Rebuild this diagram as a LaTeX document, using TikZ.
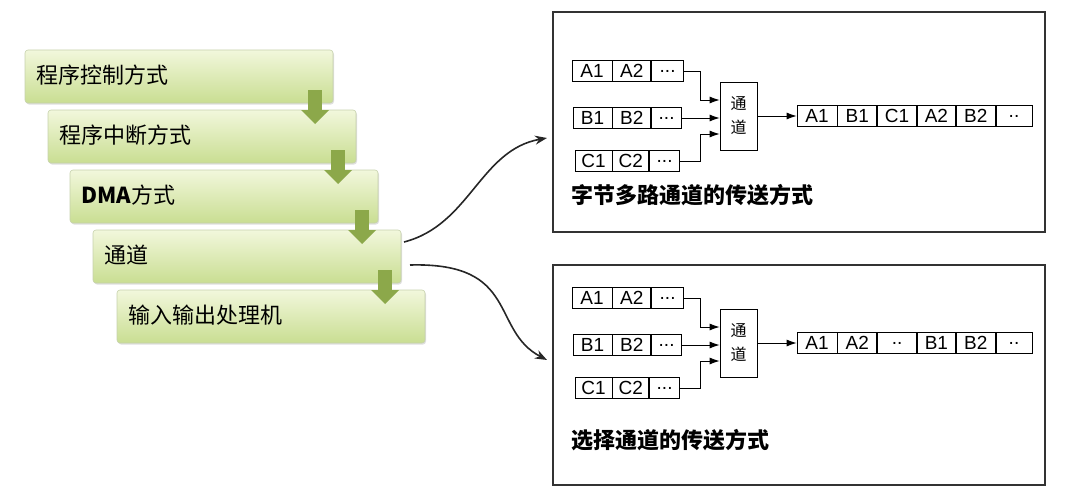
\documentclass[tikz,border=0pt]{standalone}
\usepackage{fontspec}
\setmainfont{Liberation Sans}
\newfontfamily\cjk{Noto Sans CJK SC}
\usetikzlibrary{arrows.meta,shadows}
\definecolor{gA}{HTML}{F2F7DC}
\definecolor{gB}{HTML}{C9DE92}
\definecolor{garr}{HTML}{8CA84A}
\begin{document}
\begin{tikzpicture}[x=1pt,y=-1pt,
 stepbox/.style={draw=gB!80!black!60,rounded corners=3pt,top color=gA,bottom color=gB,line width=0.6pt,drop shadow={opacity=0.25,shadow xshift=1pt,shadow yshift=-1.5pt}},
 lbl/.style={anchor=west,font=\cjk\fontsize{22}{24}\selectfont},
 cell/.style={draw,fill=white,line width=0.8pt,minimum height=21pt,inner sep=0pt,font=\fontsize{19}{19}\selectfont},
 panel/.style={draw=black!80,line width=1.6pt},
 conn/.style={-{Latex[length=10pt,width=7pt]},line width=0.9pt},
 big/.style={-{Stealth[length=12pt,width=9pt]},line width=1.6pt,black!85}]
\useasboundingbox (0,0) rectangle (1065,495);
% left steps
\foreach \i/\x/\y/\t in {1/25/50/程序控制方式,2/48/110/程序中断方式,3/70/170/{\textbf{DMA}方式},4/93/230/通道,5/117/290/输入输出处理机}{
 \path[stepbox] (\x,\y) rectangle ++(308,53);
 \node[lbl] (s\i) at (\x+8,\y+25) {\t};
}
\foreach \x/\y in {315/90,338/150,362/210,385/270}{
 \fill[garr] (\x-7,\y) rectangle (\x+7,\y+20);
 \fill[garr] (\x-14,\y+20) -- (\x,\y+34) -- (\x+14,\y+20) -- cycle;
}
% panels
\foreach \p/\po/\oy/\cy/\cap in {1/0/0/195/字节多路通道的传送方式,2/253/227/440/选择通道的传送方式}{
 \draw[panel] (553,12+\po) rectangle (1045,232+\po);
 \node[cell,minimum width=40pt] (a1\p) at (592,71+\oy) {A1};
 \node[cell,minimum width=38pt,anchor=west] (a2\p) at (a1\p.east) {A2};
 \node[cell,minimum width=32pt,anchor=west] (a3\p) at (a2\p.east) {...};
 \node[cell,minimum width=39pt] (b1\p) at (592.5,118+\oy) {B1};
 \node[cell,minimum width=38pt,anchor=west] (b2\p) at (b1\p.east) {B2};
 \node[cell,minimum width=30pt,anchor=west] (b3\p) at (b2\p.east) {...};
 \node[cell,minimum width=37pt] (c1\p) at (593.5,161+\oy) {C1};
 \node[cell,minimum width=36pt,anchor=west] (c2\p) at (c1\p.east) {C2};
 \node[cell,minimum width=30pt,anchor=west] (c3\p) at (c2\p.east) {...};
 \node[draw,line width=0.8pt,minimum width=37pt,minimum height=68pt,align=center,font=\cjk\fontsize{16}{24}\selectfont] (ch\p) at (738.5,116+\oy) {通\\道};
 \draw[conn] (a3\p.east) -| (700,100+\oy) -- (ch\p.west|-0,100+\oy);
 \draw[conn] (b3\p.east) -- (ch\p.west|-b3\p);
 \draw[conn] (c3\p.east) -| (700,134+\oy) -- (ch\p.west|-0,134+\oy);
 \node[lbl,font=\cjk\bfseries\fontsize{22}{24}\selectfont] (cap\p) at (568,\cy) {\cap};
}
\node[cell,minimum width=40pt] (o11) at (817,116) {A1};
\foreach \i/\j/\w/\t in {2/1/39/B1,3/2/39/C1,4/3/38/A2,5/4/39/B2,6/5/36/..}
 \node[cell,minimum width=\w pt,anchor=west] (o\i1) at (o\j1.east) {\t};
\node[cell,minimum width=40pt] (o12) at (817,343) {A1};
\foreach \i/\j/\w/\t in {2/1/39/A2,3/2/39/..,4/3/38/B1,5/4/39/B2,6/5/36/..}
 \node[cell,minimum width=\w pt,anchor=west] (o\i2) at (o\j2.east) {\t};
\draw[conn] (ch1.east) -- (o11.west);
\draw[conn] (ch2.east) -- (o12.west);
% big connectors
\coordinate (t1) at (547,138);
\coordinate (t2) at (547,360);
\draw[big] (404,242) .. controls (470,225) and (480,150) .. (t1);
\draw[big] (410,265) .. controls (520,262) and (490,330) .. (t2);
\end{tikzpicture}
\end{document}
